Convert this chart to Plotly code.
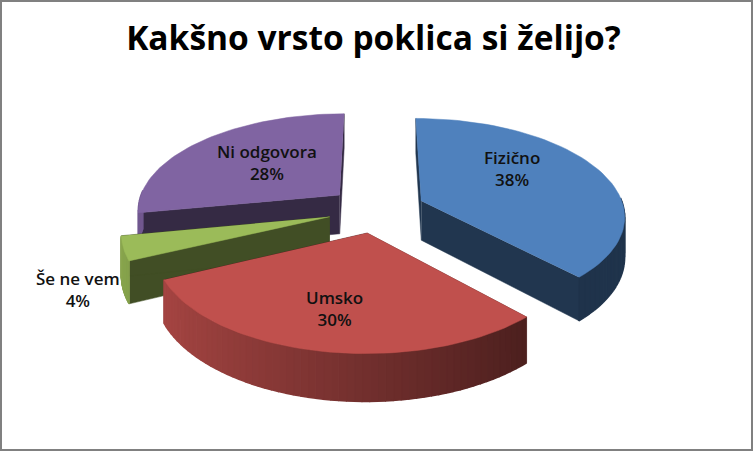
import numpy as np
import plotly.graph_objs as go

# data
categories = ['Fizično', 'Umsko', 'Še ne vem', 'Ni odgovora']
values = [38, 30, 4, 28]
colors = ['#4f81bd', '#c0504d', '#9bbb59', '#8064a2']
title = 'Kakšno vrsto poklica si želijo?'

# label centres in pixels
label_x = [512, 334, 78, 267]
label_y = [168, 308, 289, 162]

# fake 3d camera, tuned by eye against the picture
CX, CY = 376.5, 209.5
SCALE = 203
PERSP = 0.14
SIN_T, COS_T = 0.475, 0.87
EXPLODE = 0.24
DEPTH = 0.224


def project(u, v, h=0.0):
    w = 1 + PERSP*v
    return CX + SCALE*u/w, CY - SCALE*(SIN_T*v + COS_T*h)/w


def shade(color, f):
    r, g, b = [int(color[i:i+2], 16) for i in (1, 3, 5)]
    return 'rgb(%d,%d,%d)' % (r*f, g*f, b*f)


def poly(us, vs, hs, color, lw=0.5):
    x, y = project(np.array(us), np.array(vs), np.array(hs))
    return go.Scatter(x=x, y=y, mode='lines', fill='toself', fillcolor=color,
                      line=dict(color=color, width=lw), hoverinfo='skip', showlegend=False)


def slice_traces(start, end, color):
    mid = (start + end)/2
    u0, v0 = EXPLODE*np.sin(mid), EXPLODE*np.cos(mid)
    t = np.linspace(start, end, 60)
    us = u0 + np.sin(t)
    vs = v0 + np.cos(t)
    traces = []
    # flat side walls
    for a in (start, end):
        ue, ve = u0 + np.sin(a), v0 + np.cos(a)
        traces.append(poly([u0, ue, ue, u0], [v0, ve, ve, v0], [0, 0, -DEPTH, -DEPTH], shade(color, 0.42)))
    # outer wall, cut in strips so it gets lighter to the left
    for i in range(len(t) - 1):
        if np.cos((t[i] + t[i+1])/2) > 0.05:
            continue
        f = min(max(0.6 - 0.29*np.sin(t[i]), 0.4), 0.9)
        traces.append(poly([us[i], us[i+1], us[i+1], us[i]], [vs[i], vs[i+1], vs[i+1], vs[i]],
                           [0, 0, -DEPTH, -DEPTH], shade(color, f), lw=1.5))
    # top face
    traces.append(poly(np.r_[u0, us], np.r_[v0, vs], np.zeros(len(t) + 1), color))
    return traces


fracs = np.cumsum([0] + values)/sum(values)*2*np.pi
angles = list(zip(fracs[:-1], fracs[1:]))

# back to front
fig = go.Figure()
for i in [3, 2, 0, 1]:
    fig.add_traces(slice_traces(angles[i][0], angles[i][1], colors[i]))

for name, val, lx, ly in zip(categories, values, label_x, label_y):
    fig.add_annotation(x=lx, y=ly, text='%s<br>%d%%' % (name, val), showarrow=False, align='center',
                       font=dict(family='Open Sans', size=17, weight=600, color='#111111'))

fig.update_layout(
    width=753, height=451, margin=dict(l=0, r=0, t=0, b=0), autosize=False,
    paper_bgcolor='white', plot_bgcolor='white', showlegend=False,
    title=dict(text='<b>%s</b>' % title, x=0.496, xanchor='center', y=0.915, yanchor='middle',
               font=dict(family='Open Sans', size=33.5, color='black')),
    xaxis=dict(range=[0, 753], visible=False, fixedrange=True),
    yaxis=dict(range=[451, 0], visible=False, fixedrange=True),
    shapes=[dict(type='rect', xref='paper', yref='paper', x0=0, y0=0, x1=1, y1=1,
                 line=dict(color='#808080', width=4))],
)

# plotly's page keeps the browser's body margin, drop it
fig.write_html('out.html', config={'displayModeBar': False},
               post_script="document.body.style.margin='0';document.body.style.overflow='hidden';")
